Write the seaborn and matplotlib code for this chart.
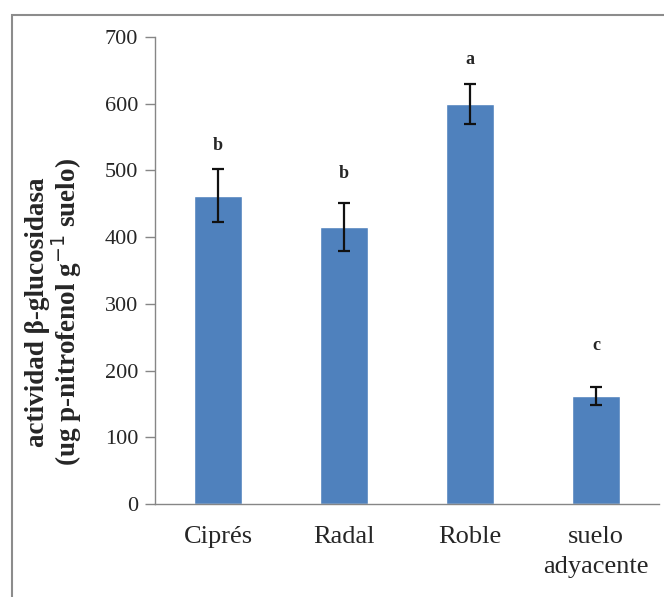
import matplotlib
matplotlib.use("Agg")
import matplotlib.pyplot as plt
import seaborn as sns
import pandas as pd
from matplotlib.patches import Rectangle

# ------------------------------------------------------------------------------
# Data
sitios = ["Ciprés", "Radal", "Roble", "suelo\nadyacente"]
actividad = [462, 415, 600, 162]
error = [40, 36, 30, 13]
letras = ["b", "b", "a", "c"]
letra_y = [538, 496, 666, 238]

df = pd.DataFrame({"sitio": sitios, "actividad": actividad})

# ------------------------------------------------------------------------------
sns.set_theme(style="white")
plt.rcParams["font.family"] = ["Liberation Serif", "DejaVu Serif"]

fig = plt.figure(figsize=(6.64, 5.97), dpi=100)
ax = fig.add_axes([155 / 664, 1 - 504 / 597, 504 / 664, 467 / 597])

sns.barplot(data=df, x="sitio", y="actividad", color="#4F81BD",
            saturation=1, width=0.38, ax=ax)
ax.errorbar(range(len(sitios)), actividad, yerr=error, fmt="none",
            ecolor="#111111", elinewidth=1.6, capsize=4.5, capthick=1.6)

for i, (l, y) in enumerate(zip(letras, letra_y)):
    ax.text(i, y, l, ha="center", va="center", fontsize=13, fontweight="bold")

ax.set_ylim(0, 700)
ax.set_xlim(-0.5, 3.5)
ax.set_yticks(range(0, 701, 100))
ax.tick_params(axis="y", length=7, width=1, color="#868686", labelsize=16, pad=5, left=True)
ax.tick_params(axis="x", length=0, labelsize=19, pad=16)
for t in ax.get_xticklabels():
    t.set_linespacing(1.45)
for s in ["top", "right"]:
    ax.spines[s].set_visible(False)
for s in ["left", "bottom"]:
    ax.spines[s].set_color("#868686")
    ax.spines[s].set_linewidth(1)

ax.set_xlabel("")
ax.set_ylabel("actividad β-glucosidasa\n(ug p-nitrofenol g$^{-1}$ suelo)",
              fontsize=19.5, fontweight="bold", linespacing=1.0)
ax.yaxis.set_label_coords(-0.14, 0.41)

# grey frame round the chart
fig.patches.append(Rectangle((12 / 664, -0.05), 1.1, 1.05 - 15 / 597,
                             transform=fig.transFigure, fill=False,
                             edgecolor="#8c8c8c", linewidth=1.5))

fig.savefig("out.png", dpi=100)
